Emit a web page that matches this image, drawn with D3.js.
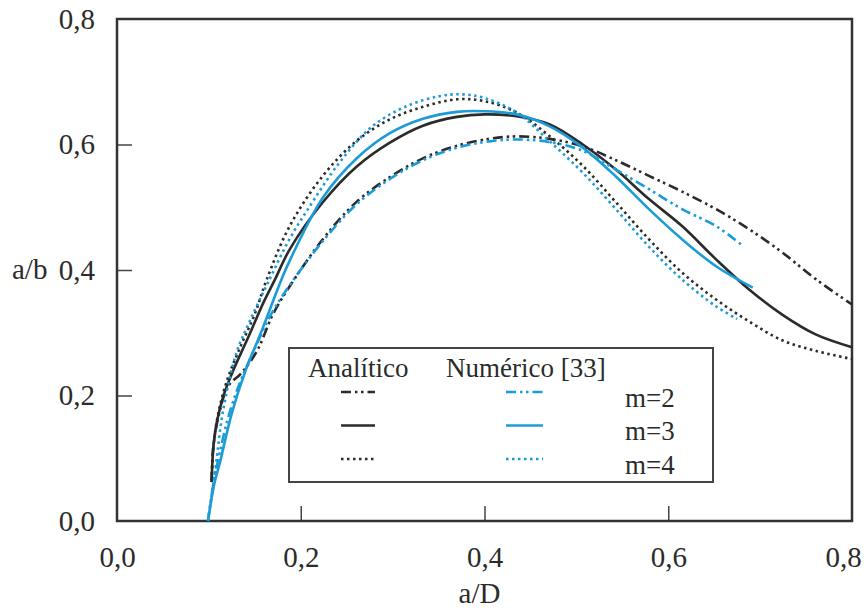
<!DOCTYPE html>
<html>
<head>
<meta charset="utf-8">
<script src="https://cdn.jsdelivr.net/npm/d3@7"></script>
<style>
  body { margin: 0; background: #fff; }
  text { font-family: "Liberation Serif", "Times New Roman", serif; fill: #2b2b2b; }
</style>
</head>
<body>
<div id="chart"></div>
<script>
// a/D vs a/b readings, [x, y]
const analiticoM2 = [[0.103,0.062],[0.105,0.12],[0.111,0.17],[0.121,0.215],[0.135,0.235],[0.152,0.27],[0.170,0.33],[0.188,0.374],[0.224,0.449],[0.261,0.509],[0.297,0.548],[0.333,0.578],[0.370,0.598],[0.405,0.609],[0.435,0.613],[0.471,0.609],[0.507,0.597],[0.543,0.575],[0.579,0.550],[0.615,0.525],[0.652,0.497],[0.688,0.465],[0.724,0.428],[0.761,0.385],[0.800,0.345]];
const analiticoM3 = [[0.103,0.062],[0.105,0.12],[0.109,0.16],[0.116,0.20],[0.128,0.245],[0.142,0.29],[0.160,0.35],[0.172,0.385],[0.188,0.433],[0.224,0.508],[0.261,0.565],[0.297,0.603],[0.333,0.630],[0.370,0.644],[0.400,0.648],[0.435,0.645],[0.471,0.632],[0.507,0.600],[0.543,0.560],[0.579,0.513],[0.615,0.470],[0.652,0.417],[0.688,0.369],[0.724,0.329],[0.761,0.297],[0.800,0.277]];
const analiticoM4 = [[0.103,0.065],[0.105,0.12],[0.110,0.17],[0.120,0.225],[0.135,0.28],[0.150,0.33],[0.163,0.385],[0.188,0.470],[0.224,0.550],[0.261,0.606],[0.297,0.640],[0.333,0.660],[0.370,0.672],[0.400,0.669],[0.435,0.651],[0.471,0.613],[0.507,0.566],[0.543,0.508],[0.579,0.449],[0.615,0.396],[0.652,0.353],[0.688,0.318],[0.724,0.288],[0.761,0.271],[0.800,0.258]];
const numericoM2 = [[0.099,0.0],[0.105,0.06],[0.112,0.11],[0.122,0.17],[0.135,0.225],[0.150,0.275],[0.168,0.33],[0.190,0.38],[0.224,0.446],[0.261,0.505],[0.297,0.545],[0.333,0.575],[0.370,0.595],[0.405,0.605],[0.435,0.608],[0.471,0.604],[0.507,0.590],[0.543,0.560],[0.579,0.529],[0.615,0.497],[0.652,0.470],[0.679,0.441]];
const numericoM3 = [[0.099,0.0],[0.106,0.06],[0.112,0.093],[0.125,0.172],[0.140,0.24],[0.158,0.305],[0.179,0.385],[0.188,0.415],[0.224,0.515],[0.261,0.578],[0.297,0.618],[0.333,0.641],[0.370,0.652],[0.400,0.653],[0.435,0.648],[0.471,0.629],[0.507,0.595],[0.543,0.549],[0.579,0.497],[0.615,0.449],[0.652,0.406],[0.692,0.372]];
const numericoM4 = [[0.099,0.0],[0.104,0.05],[0.108,0.093],[0.115,0.172],[0.130,0.268],[0.145,0.32],[0.166,0.385],[0.188,0.45],[0.207,0.495],[0.242,0.571],[0.278,0.629],[0.315,0.661],[0.351,0.677],[0.375,0.680],[0.400,0.674],[0.435,0.651],[0.471,0.605],[0.507,0.555],[0.543,0.497],[0.579,0.437],[0.615,0.385],[0.652,0.342],[0.675,0.322]];

const xTicks = [0, 0.2, 0.4, 0.6, 0.8];
const yTicks = [0, 0.2, 0.4, 0.6, 0.8];
const legendLabels = ['m=2', 'm=3', 'm=4'];

const black = '#2b2b2b';
const blue = '#1b9bd8';
const dashes = ['10,4,2.5,3.5,2.5,4', null, '2.5,3.5'];

const margin = {top: 19, right: 14, bottom: 89, left: 117};
const width = 866, height = 610;
const w = width - margin.left - margin.right;
const h = height - margin.top - margin.bottom;

const svg = d3.select('#chart').append('svg')
    .attr('width', width)
    .attr('height', height);

const g = svg.append('g')
    .attr('transform', `translate(${margin.left},${margin.top})`);

const x = d3.scaleLinear().domain([0, 0.8]).range([0, w]);
const y = d3.scaleLinear().domain([0, 0.8]).range([h, 0]);

const fmt = d => d3.format('.1f')(d).replace('.', ',');

// axes: inward ticks, labels kept outside
const xAxis = d3.axisBottom(x).tickValues(xTicks).tickFormat(fmt)
    .tickSizeInner(-15).tickSizeOuter(0).tickPadding(25);
const yAxis = d3.axisLeft(y).tickValues(yTicks).tickFormat(fmt)
    .tickSizeInner(-15).tickSizeOuter(0).tickPadding(22);

const xg = g.append('g').attr('transform', `translate(0,${h})`).call(xAxis);
const yg = g.append('g').call(yAxis);
[xg, yg].forEach(a => {
  a.select('.domain').remove();
  a.selectAll('line').attr('stroke', '#444').attr('stroke-width', 1.5);
  a.selectAll('text').style('font-size', '29px').style('font-family', '"Liberation Serif", serif').attr('fill', '#2b2b2b');
  a.selectAll('.tick').filter(d => d === 0 || d === 0.8).select('line').remove();
});
// last x label sits against the page edge
xg.selectAll('.tick').filter(d => d === 0.8).select('text').attr('dx', -9);

// frame
g.append('rect')
    .attr('width', w).attr('height', h)
    .attr('fill', 'none')
    .attr('stroke', '#333')
    .attr('stroke-width', 2.5);

// axis titles
g.append('text')
    .attr('x', w / 2 - 5)
    .attr('y', h + 82)
    .attr('text-anchor', 'middle')
    .style('font-size', '29px')
    .text('a/D');

g.append('text')
    .attr('x', 12 - margin.left)
    .attr('y', y(0.4))
    .attr('dy', '0.32em')
    .style('font-size', '29px')
    .text('a/b');

// curves
const line = d3.line()
    .x(d => x(d[0]))
    .y(d => y(d[1]))
    .curve(d3.curveCatmullRom.alpha(0.5));

const series = [
  {data: analiticoM2, color: black, dash: dashes[0]},
  {data: analiticoM3, color: black, dash: dashes[1]},
  {data: analiticoM4, color: black, dash: dashes[2]},
  {data: numericoM2, color: blue, dash: dashes[0]},
  {data: numericoM3, color: blue, dash: dashes[1]},
  {data: numericoM4, color: blue, dash: dashes[2]}
];

g.append('g').selectAll('path')
  .data(series)
  .join('path')
    .attr('d', d => line(d.data))
    .attr('fill', 'none')
    .attr('stroke', d => d.color)
    .attr('stroke-width', 2.6)
    .attr('stroke-dasharray', d => d.dash);

// legend
const legend = svg.append('g').attr('transform', 'translate(289,348)');
legend.append('rect')
    .attr('width', 424).attr('height', 134)
    .attr('fill', '#fff')
    .attr('stroke', '#444')
    .attr('stroke-width', 2);

legend.append('text').attr('x', 19).attr('y', 29).style('font-size', '27px').text('Analítico');
legend.append('text').attr('x', 157).attr('y', 29).style('font-size', '27px').text('Numérico [33]');

const rows = legend.selectAll('.row')
  .data(legendLabels)
  .join('g')
    .attr('class', 'row')
    .attr('transform', (d, i) => `translate(0,${44 + i * 33.5})`);

rows.append('line')
    .attr('x1', 52).attr('x2', 86)
    .attr('stroke', black).attr('stroke-width', 2.6)
    .attr('stroke-dasharray', (d, i) => dashes[i]);
rows.append('line')
    .attr('x1', 217).attr('x2', 254)
    .attr('stroke', blue).attr('stroke-width', 2.6)
    .attr('stroke-dasharray', (d, i) => dashes[i]);
rows.append('text')
    .attr('x', 336).attr('y', 6)
    .attr('dy', '0.32em')
    .style('font-size', '27px')
    .text(d => d);
</script>
</body>
</html>
